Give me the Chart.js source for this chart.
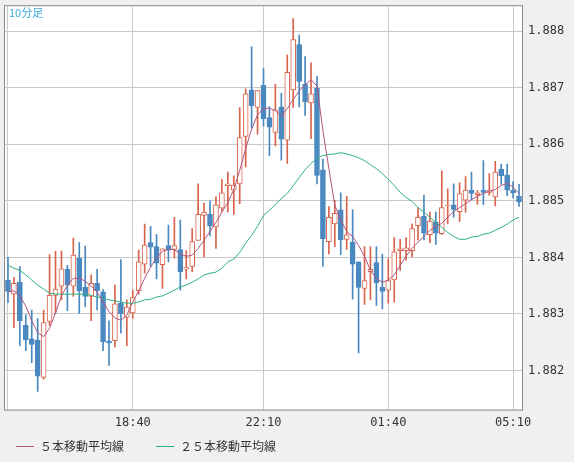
<!DOCTYPE html>
<html><head><meta charset="utf-8">
<script src="https://cdn.jsdelivr.net/npm/chart.js@4"></script>
<style>html,body{margin:0;padding:0;background:#f0f0f0;overflow:hidden}#wrap{width:574px;height:462px;position:relative;overflow:hidden}#c{position:absolute;left:0;top:-7px}</style>
</head><body><div id="wrap"><canvas id="c" width="574" height="469"></canvas></div>
<script>
const openP=[1.8836,1.88335,1.88356,1.8828,1.88256,1.88254,1.88188,1.88287,1.88333,1.88349,1.88379,1.88349,1.88399,1.88347,1.88331,1.88354,1.88339,1.88252,1.88253,1.88319,1.88294,1.88302,1.88341,1.88388,1.88426,1.88419,1.88387,1.88421,1.88414,1.88414,1.88379,1.88384,1.8843,1.88474,1.88476,1.88454,1.88487,1.88527,1.88519,1.8853,1.88614,1.88696,1.88665,1.88704,1.88647,1.88621,1.88666,1.88607,1.88696,1.88776,1.88706,1.88673,1.88699,1.88555,1.88428,1.88459,1.88484,1.88432,1.88427,1.88392,1.88345,1.88375,1.88391,1.88347,1.88342,1.8836,1.88412,1.88412,1.88412,1.88456,1.88473,1.8844,1.88463,1.88442,1.88491,1.88493,1.88481,1.88501,1.88519,1.88511,1.88519,1.88515,1.88507,1.88556,1.88546,1.88519,1.88508];
const highP=[1.8840,1.88365,1.88384,1.88299,1.88307,1.88292,1.88307,1.88405,1.88411,1.88411,1.88386,1.88434,1.88426,1.8842,1.88369,1.88379,1.88343,1.88288,1.88351,1.88396,1.88325,1.88342,1.88413,1.88459,1.88455,1.88441,1.88415,1.88457,1.88471,1.88466,1.88412,1.88451,1.8853,1.88496,1.8850,1.88507,1.88538,1.88551,1.88544,1.88665,1.88698,1.88772,1.88695,1.88734,1.88666,1.88706,1.8869,1.88758,1.88822,1.88793,1.88755,1.88744,1.8872,1.88574,1.8849,1.88501,1.88514,1.88508,1.88484,1.88392,1.88419,1.88419,1.88419,1.88406,1.88398,1.88435,1.88432,1.88435,1.88459,1.88488,1.8851,1.8848,1.8848,1.88553,1.88521,1.8853,1.88532,1.88543,1.88551,1.88518,1.88571,1.88548,1.8857,1.88565,1.88565,1.88534,1.88529];
const lowP=[1.8832,1.88276,1.88244,1.88235,1.88214,1.88163,1.88185,1.8828,1.88301,1.88325,1.88306,1.88331,1.88301,1.88313,1.88288,1.88307,1.88235,1.88209,1.88242,1.88266,1.88244,1.88292,1.88335,1.88372,1.88384,1.88362,1.88345,1.88392,1.88399,1.88342,1.88362,1.88375,1.8843,1.88401,1.88438,1.88416,1.88481,1.8848,1.88476,1.88495,1.8856,1.88629,1.88618,1.88632,1.8858,1.88597,1.88572,1.88566,1.88665,1.88666,1.88651,1.8861,1.8853,1.88384,1.88406,1.88419,1.88405,1.88414,1.88326,1.88231,1.88317,1.88325,1.88315,1.88309,1.88319,1.88321,1.88377,1.88395,1.88401,1.88431,1.88431,1.88426,1.88423,1.8844,1.88459,1.88471,1.88463,1.8848,1.88502,1.88494,1.88493,1.8851,1.88491,1.88529,1.88509,1.88505,1.8849];
const closeP=[1.8834,1.88354,1.88288,1.88254,1.88246,1.8819,1.88285,1.88333,1.88344,1.8838,1.88351,1.88404,1.88341,1.88331,1.88354,1.88341,1.88251,1.88249,1.88318,1.883,1.88312,1.88329,1.88392,1.88422,1.88418,1.8839,1.88415,1.88413,1.88421,1.88375,1.88382,1.88428,1.88476,1.8848,1.88455,1.88493,1.88514,1.8853,1.88528,1.88612,1.88689,1.88668,1.88695,1.88645,1.8863,1.88661,1.88609,1.88727,1.88785,1.88711,1.88675,1.88689,1.88545,1.88433,1.88471,1.88478,1.88431,1.8844,1.88388,1.88347,1.88359,1.88379,1.88355,1.8834,1.88359,1.8841,1.88415,1.88417,1.88451,1.88471,1.88443,1.88464,1.88443,1.88488,1.88491,1.88485,1.88513,1.88519,1.88513,1.88514,1.88515,1.88519,1.88551,1.88544,1.88519,1.88514,1.88498];
const ma5=[1.88339,1.88341,1.88332,1.88314,1.88288,1.88267,1.8826,1.88275,1.88302,1.88332,1.88351,1.88363,1.88363,1.88358,1.88349,1.88339,1.88321,1.88304,1.88293,1.88289,1.88298,1.88321,1.88341,1.88363,1.88383,1.88399,1.88411,1.88414,1.88414,1.88406,1.88402,1.88404,1.88416,1.8843,1.88446,1.88462,1.8848,1.88497,1.8852,1.88554,1.88592,1.88627,1.88652,1.88663,1.88664,1.88659,1.8865,1.88663,1.88679,1.88694,1.88705,1.88714,1.88703,1.88624,1.88557,1.88492,1.88466,1.88446,1.88437,1.88421,1.88402,1.88377,1.88363,1.88356,1.8836,1.88369,1.88386,1.88402,1.88416,1.88427,1.88437,1.88448,1.88455,1.8846,1.88471,1.88481,1.88488,1.88495,1.88502,1.88508,1.88513,1.88517,1.8852,1.88527,1.88531,1.88524,1.88513];
const ma25=[1.88386,1.88381,1.88377,1.88369,1.8836,1.88351,1.88344,1.88337,1.88335,1.88335,1.88335,1.88335,1.88335,1.88335,1.88333,1.8833,1.88328,1.88325,1.88323,1.88321,1.88319,1.88319,1.88321,1.88325,1.88326,1.8833,1.88332,1.88337,1.88342,1.88348,1.88351,1.88356,1.88362,1.88369,1.88372,1.88374,1.88381,1.88392,1.88397,1.88409,1.88425,1.88439,1.88455,1.88474,1.88483,1.88494,1.88504,1.88513,1.88527,1.88541,1.88555,1.88566,1.88575,1.8858,1.88582,1.88583,1.88585,1.88583,1.8858,1.88576,1.88571,1.88564,1.88557,1.88548,1.88538,1.88527,1.88515,1.88506,1.88499,1.88488,1.8848,1.88471,1.88462,1.88453,1.88444,1.88437,1.88432,1.88432,1.88436,1.88437,1.88441,1.88443,1.88448,1.88453,1.88459,1.88466,1.88471];
const timeLabels={21:'18:40',43:'22:10',64:'01:40',85:'05:10'};
const gridIdx=[0,21,43,64,85];
const yTicks=[1.882,1.883,1.884,1.885,1.886,1.887,1.888];
const legendNames=['５本移動平均線','２５本移動平均線'];
const chartTitle='10分足';

const N=openP.length;
const labels=openP.map((_,i)=>timeLabels[i]||'');
const up=openP.map((o,i)=>closeP[i]>=o);
const UPC='#d8644b', DNC='#4a88c0', MA5C='#b2567f', MA25C='#2db57c';

const bgPlugin={id:'bg',beforeDraw(ch){const c=ch.ctx,a=ch.chartArea;c.save();c.fillStyle='#f0f0f0';c.fillRect(0,0,ch.width,ch.height);c.fillStyle='#fff';c.fillRect(a.left,a.top,a.right-a.left,a.bottom-a.top);c.restore();},
afterDraw(ch){const c=ch.ctx,a=ch.chartArea;c.save();c.strokeStyle='#8a8a8a';c.lineWidth=1;c.strokeRect(a.left-0.5,a.top-0.5,a.right-a.left+1,a.bottom-a.top+1);
c.fillStyle='#3aa8df';c.font='11px "Noto Sans CJK JP"';c.textBaseline='top';c.fillText(chartTitle,a.left+4,a.top+1);
c.font='12px "Noto Sans CJK JP"';c.textBaseline='middle';
const ly=453;[[MA5C,16,legendNames[0]],[MA25C,156,legendNames[1]]].forEach(([col,x,t])=>{c.strokeStyle=col;c.beginPath();c.moveTo(x,ly+0.5);c.lineTo(x+18,ly+0.5);c.stroke();c.fillStyle='#333';c.fillText(t,x+24,ly);});
c.restore();}};

new Chart(document.getElementById('c'),{
 data:{labels,datasets:[
  {type:'line',data:ma25,borderColor:MA25C,borderWidth:1,pointRadius:0,tension:0,order:1},
  {type:'line',data:ma5,borderColor:MA5C,borderWidth:1,pointRadius:0,tension:0,order:0},
  {type:'bar',data:openP.map((o,i)=>[lowP[i],highP[i]]),backgroundColor:up.map(u=>u?UPC:DNC),barThickness:1,grouped:false,order:3},
  {type:'bar',data:openP.map((o,i)=>{let a=o,b=closeP[i];if(Math.abs(a-b)<0.000015){b=a+0.000015;}return [Math.min(a,b),Math.max(a,b)];}),
   backgroundColor:up.map(u=>u?'#ffffff':DNC),borderColor:up.map(u=>u?UPC:DNC),borderWidth:1,borderSkipped:false,barThickness:5,grouped:false,order:2}
 ]},
 options:{responsive:false,animation:false,events:[],
  layout:{padding:{left:5,top:-2,right:4,bottom:26}},
  plugins:{legend:{display:false},tooltip:{enabled:false}},
  scales:{
   x:{offset:true,grid:{offset:false,color:(ctx)=>gridIdx.includes(ctx.index)?'#c8c8c8':'rgba(0,0,0,0)',drawTicks:false},border:{display:false},
      ticks:{autoSkip:false,maxRotation:0,padding:6,color:'#333',font:{family:'DejaVu Sans Mono',size:12},callback:(v,i)=>labels[i]}},
   y:{position:'right',min:1.88131,max:1.88844,grid:{color:'#c8c8c8',drawTicks:false},border:{display:false},
      afterBuildTicks:(s)=>{s.ticks=yTicks.map(v=>({value:v}));},afterFit:(s)=>{s.width=48;},
      ticks:{padding:6,color:'#333',font:{family:'DejaVu Sans Mono',size:12},callback:(v)=>v.toFixed(3)}}
  }},
 plugins:[bgPlugin]
});
</script></body></html>
